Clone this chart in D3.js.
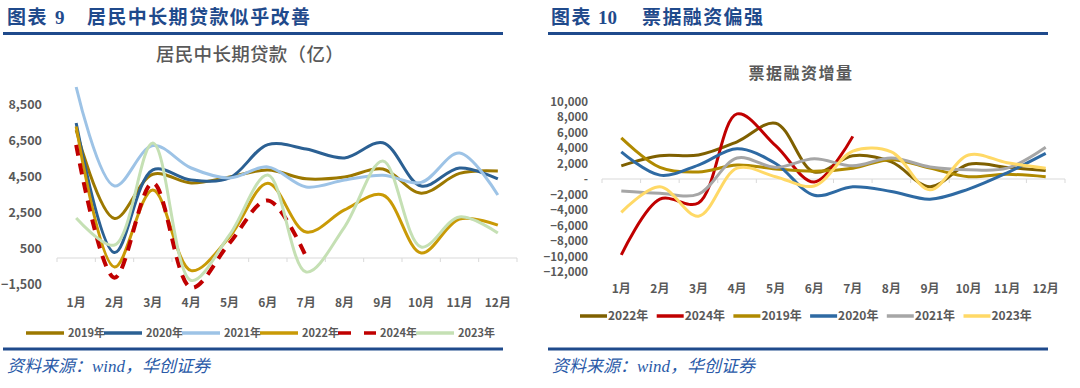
<!DOCTYPE html>
<html>
<head>
<meta charset="utf-8">
<script src="https://cdn.jsdelivr.net/npm/d3@7"></script>
<style>
    body{margin:0;background:#fff;}
    text{font-family:"Noto Sans CJK SC","Noto Sans",sans-serif;}
</style>
</head>
<body>
<div id="chart"></div>
<script>
//月份
var months=['1月','2月','3月','4月','5月','6月','7月','8月','9月','10月','11月','12月'];

//居民中长期贷款（亿）
var loanYears=['2019年','2020年','2021年','2022年','2024年','2023年'];
var loan2019=[7100,2200,4650,4170,4500,4890,4400,4500,4940,3600,4700,4830];
var loan2020=[7500,300,4900,4330,4450,6300,6050,5560,6400,4000,5000,4390];
var loan2021=[9500,4000,6250,5000,4450,5060,3950,4330,4600,4200,5830,3500];
var loan2022=[7300,-500,3780,-700,1170,4150,1440,2670,3500,280,2170,1830];
var loan2024=[6280,-1100,4170,-1650,830,3200,60];
var loan2023=[2220,720,6390,-1250,1280,4610,-780,1720,5390,610,2280,1390];
var loanTicks=[-1500,500,2500,4500,6500,8500];

//票据融资增量
var billYears=['2022年','2024年','2019年','2020年','2021年','2023年'];
var bill2022=[1700,3000,3100,4800,7200,900,3000,2200,-1000,1900,1500,1100];
var bill2024=[-9800,-2600,-3100,8400,4300,-400,5500];
var bill2019=[5300,1500,900,1800,1300,1000,1400,2500,1400,300,600,300];
var bill2020=[3500,500,1800,3900,2000,-2100,-1000,-1600,-2600,-1300,800,3300];
var bill2021=[-1550,-1850,-1950,2700,1500,2600,1700,2700,1550,1200,1400,4100];
var bill2023=[-4300,-1000,-4800,1400,300,-900,3600,3500,-1400,3100,2100,1400];
var billTicks=[-12000,-10000,-8000,-6000,-4000,-2000,0,2000,4000,6000,8000,10000];

var svg=d3.select('#chart').append('svg')
    .attr('width',1080).attr('height',388)
    .style('background','#fff');

/**
 * 画一个面板
 * @param cfg {Object} 配置
 */
function drawPanel(cfg){
    var g=svg.append('g').attr('transform','translate('+cfg.dx+',0)');

    //标题 图表 N
    g.append('text').attr('x',cfg.headX).attr('y',24)
        .attr('font-size',19).attr('font-weight','bold').attr('fill','#1f4a8c')
        .attr('letter-spacing',1.5)
        .text('图表');
    g.append('text').attr('x',cfg.numX).attr('y',24)
        .attr('font-size',19).attr('font-weight','bold').attr('fill','#1f4a8c')
        .style('font-family','"Liberation Serif",serif')
        .text(cfg.num);
    g.append('text').attr('x',cfg.titleX).attr('y',24)
        .attr('font-size',19).attr('font-weight','bold').attr('fill','#1f4a8c')
        .attr('letter-spacing',1.4)
        .text(cfg.head);

    //上下两条蓝线
    g.append('rect').attr('x',cfg.ruleX).attr('y',32).attr('width',500).attr('height',3).attr('fill','#1f4a8c');
    g.append('rect').attr('x',cfg.ruleX).attr('y',347.5).attr('width',500).attr('height',3).attr('fill','#1f4a8c');

    //资料来源
    g.append('text').attr('x',cfg.ruleX+4).attr('y',372)
        .attr('font-size',17).attr('font-style','italic').attr('fill','#2a5aa8')
        .style('font-family','"Liberation Serif","Noto Sans CJK SC",serif')
        .text('资料来源：wind，华创证券');

    //图表标题
    g.append('text').attr('x',cfg.chartTitleX).attr('y',cfg.chartTitleY)
        .attr('text-anchor','middle')
        .attr('font-size',cfg.chartTitleSize).attr('font-weight',cfg.chartTitleWeight).attr('fill','#595959')
        .attr('letter-spacing',cfg.chartTitleSpacing)
        .text(cfg.chartTitle);

    var x=d3.scaleBand().domain(months).range(cfg.xRange);
    var y=d3.scaleLinear().domain(cfg.yDomain).range(cfg.yRange);

    //y轴文字
    g.selectAll('text.ylab').data(cfg.ticks).enter().append('text').attr('class','ylab')
        .attr('x',cfg.yLabX).attr('y',function(d){return y(d);}).attr('dy','.35em')
        .attr('text-anchor','end').attr('font-size',cfg.tickSize).attr('font-weight','bold').attr('fill','#595959')
        .text(function(d){return d===0?'-':d3.format(',')(d);});

    //横轴
    var axisY=y(0);
    g.append('line').attr('x1',cfg.xRange[0]).attr('x2',cfg.xRange[1])
        .attr('y1',axisY).attr('y2',axisY).attr('stroke','#d9d9d9').attr('stroke-width',1);
    var ticksX=months.map(function(m){return x(m);}).concat([cfg.xRange[1]]);
    g.selectAll('line.xt').data(ticksX).enter().append('line').attr('class','xt')
        .attr('x1',function(d){return d;}).attr('x2',function(d){return d;})
        .attr('y1',axisY).attr('y2',axisY+4).attr('stroke','#d9d9d9');

    //月份文字
    g.selectAll('text.xlab').data(months).enter().append('text').attr('class','xlab')
        .attr('x',function(d){return x(d)+x.bandwidth()/2;}).attr('y',cfg.xLabY)
        .attr('text-anchor','middle').attr('font-size',12).attr('font-weight','bold').attr('fill','#595959')
        .text(function(d){return d;});

    //曲线
    var line=d3.line()
        .defined(function(d){return d!=null;})
        .x(function(d,i){return x(months[i])+x.bandwidth()/2;})
        .y(function(d){return y(d);})
        .curve(d3.curveCatmullRom.alpha(0.5));

    cfg.series.forEach(function(s){
        g.append('path').attr('d',line(s.values))
            .attr('fill','none').attr('stroke',s.color)
            .attr('stroke-width',s.dash?4:cfg.lineWidth)
            .attr('stroke-dasharray',s.dash||null)
            .attr('stroke-linejoin','round');
    });

    //图例
    cfg.series.forEach(function(s,i){
        var lx=cfg.legX+i*cfg.legStep;
        g.append('line').attr('x1',lx).attr('x2',lx+cfg.legLen)
            .attr('y1',cfg.legY).attr('y2',cfg.legY)
            .attr('stroke',s.color).attr('stroke-width',3.5)
            .attr('stroke-dasharray',s.dash?'13,13':null);
        g.append('text').attr('x',lx+cfg.legLen+cfg.legGap).attr('y',cfg.legY).attr('dy','.35em')
            .attr('font-size',cfg.legSize).attr('font-weight','bold').attr('fill','#595959')
            .text(s.name);
    });
}

//图表9
drawPanel({
    dx:0, headX:7, numX:55, titleX:87, num:'9', head:'居民中长期贷款似乎改善', ruleX:3,
    chartTitle:'居民中长期贷款（亿）', chartTitleX:250, chartTitleY:61, chartTitleSize:18.5,
    chartTitleWeight:'500', chartTitleSpacing:0.3,
    xRange:[57,517], yDomain:[-2500,10500], yRange:[303,69],
    ticks:loanTicks, yLabX:42, tickSize:12.5, xLabY:307, lineWidth:3,
    legX:26, legStep:78, legLen:38, legGap:4, legY:333, legSize:11,
    series:[
        {name:loanYears[0],values:loan2019,color:'#9c7800'},
        {name:loanYears[1],values:loan2020,color:'#2b6093'},
        {name:loanYears[2],values:loan2021,color:'#9dc3e6'},
        {name:loanYears[3],values:loan2022,color:'#c99a06'},
        {name:loanYears[4],values:loan2024,color:'#c00000',dash:'11,8'},
        {name:loanYears[5],values:loan2023,color:'#c5e0b4'}
    ]
});

//图表10
drawPanel({
    dx:540, headX:11, numX:58, titleX:102, num:'10', head:'票据融资偏强', ruleX:8,
    chartTitle:'票据融资增量', chartTitleX:261, chartTitleY:79, chartTitleSize:16,
    chartTitleWeight:'bold', chartTitleSpacing:1.5,
    xRange:[62,525], yDomain:[-12000,10000], yRange:[272,101.5],
    ticks:billTicks, yLabX:48, tickSize:11.5, xLabY:293, lineWidth:3,
    legX:40, legStep:76.7, legLen:27, legGap:1, legY:316, legSize:12,
    series:[
        {name:billYears[0],values:bill2022,color:'#7f6000'},
        {name:billYears[1],values:bill2024,color:'#c00000'},
        {name:billYears[2],values:bill2019,color:'#b08a00'},
        {name:billYears[3],values:bill2020,color:'#2e6aa3'},
        {name:billYears[4],values:bill2021,color:'#a6a6a6'},
        {name:billYears[5],values:bill2023,color:'#ffd966'}
    ]
});
</script>
</body>
</html>
